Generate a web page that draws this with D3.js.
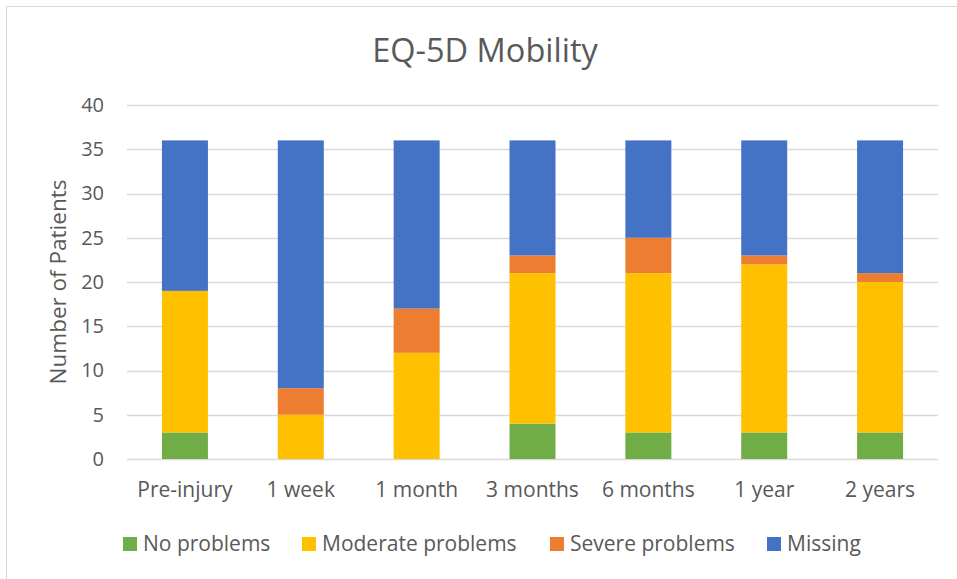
<!DOCTYPE html>
<html>
<head>
<meta charset="utf-8">
<script src="https://cdn.jsdelivr.net/npm/d3@7"></script>
<style>
  body { margin: 0; background: #fff; }
  text { font-family: "Open Sans", sans-serif; fill: #595959; }
</style>
</head>
<body>
<div class="chart"></div>
<script>
    /* data */
    const categories = ['Pre-injury', '1 week', '1 month', '3 months', '6 months', '1 year', '2 years'];
    const seriesNames = ['No problems', 'Moderate problems', 'Severe problems', 'Missing'];
    const noProblems = [3, 0, 0, 4, 3, 3, 3];
    const moderateProblems = [16, 5, 12, 17, 18, 19, 17];
    const severeProblems = [0, 3, 5, 2, 4, 1, 1];
    const missing = [17, 28, 19, 13, 11, 13, 15];
    const yTicks = [0, 5, 10, 15, 20, 25, 30, 35, 40];
    const colors = ['#70AD47', '#FFC000', '#ED7D31', '#4472C4'];

    const W = 957, H = 579;
    const margin = { top: 105, left: 127, right: 19, bottom: 120 };
    const width = W - margin.left - margin.right;
    const height = H - margin.top - margin.bottom;

    const svg = d3.select('.chart').append('svg')
        .attr('width', W).attr('height', H);

    /* border */
    svg.append('rect').attr('x', 6.5).attr('y', 6.5).attr('width', 960).attr('height', 600)
        .attr('fill', 'none').attr('stroke', '#d9d9d9').attr('stroke-width', 1);

    const rows = categories.map(function (c, i) {
        return { cat: c, 'No problems': noProblems[i], 'Moderate problems': moderateProblems[i],
            'Severe problems': severeProblems[i], 'Missing': missing[i] };
    });
    const stacked = d3.stack().keys(seriesNames)(rows);

    const x = d3.scaleBand().domain(categories).range([0, width]).paddingInner(0.603).paddingOuter(0.3015);
    const y = d3.scaleLinear().domain([0, 40]).range([height, 0]);
    const color = d3.scaleOrdinal().domain(seriesNames).range(colors);

    const plot = svg.append('g').attr('transform', 'translate(' + margin.left + ',' + margin.top + ')');

    /* gridlines */
    plot.append('g').selectAll('line').data(yTicks).enter().append('line')
        .attr('x1', 0).attr('x2', width)
        .attr('y1', function (d) { return Math.round(y(d)) + 0.5; })
        .attr('y2', function (d) { return Math.round(y(d)) + 0.5; })
        .attr('stroke', '#d9d9d9').attr('stroke-width', 1.5);

    /* y tick labels */
    plot.append('g').selectAll('text').data(yTicks).enter().append('text')
        .attr('x', -23).attr('y', function (d) { return y(d); })
        .attr('dy', '0.34em').attr('text-anchor', 'end')
        .style('font-size', '20px')
        .text(function (d) { return d; });

    /* bars */
    plot.append('g').selectAll('g').data(stacked).enter().append('g')
        .attr('fill', function (d) { return color(d.key); })
        .selectAll('rect').data(function (d) { return d; }).enter().append('rect')
        .attr('x', function (d) { return x(d.data.cat); })
        .attr('y', function (d) { return y(d[1]); })
        .attr('width', x.bandwidth())
        .attr('height', function (d) { return y(d[0]) - y(d[1]); });

    /* x labels */
    plot.append('g').selectAll('text').data(categories).enter().append('text')
        .attr('x', function (d) { return x(d) + x.bandwidth() / 2; })
        .attr('y', height + 38)
        .attr('text-anchor', 'middle')
        .style('font-size', '21px')
        .text(function (d) { return d; });

    /* title */
    svg.append('text').attr('x', 485).attr('y', 62)
        .attr('text-anchor', 'middle').style('font-size', '32.5px')
        .text('EQ-5D Mobility');

    /* y axis title */
    svg.append('text')
        .attr('transform', 'translate(66,' + (margin.top + height / 2) + ') rotate(-90)')
        .attr('text-anchor', 'middle').style('font-size', '22.5px')
        .text('Number of Patients');

    /* legend */
    const legendX = [123, 302, 550, 767];
    const legend = svg.append('g').selectAll('g').data(seriesNames).enter().append('g')
        .attr('transform', function (d, i) { return 'translate(' + legendX[i] + ',537)'; });
    legend.append('rect').attr('width', 14).attr('height', 14)
        .attr('fill', function (d) { return color(d); });
    legend.append('text').attr('x', 20).attr('y', 14)
        .style('font-size', '21px')
        .text(function (d) { return d; });
</script>
</body>
</html>
